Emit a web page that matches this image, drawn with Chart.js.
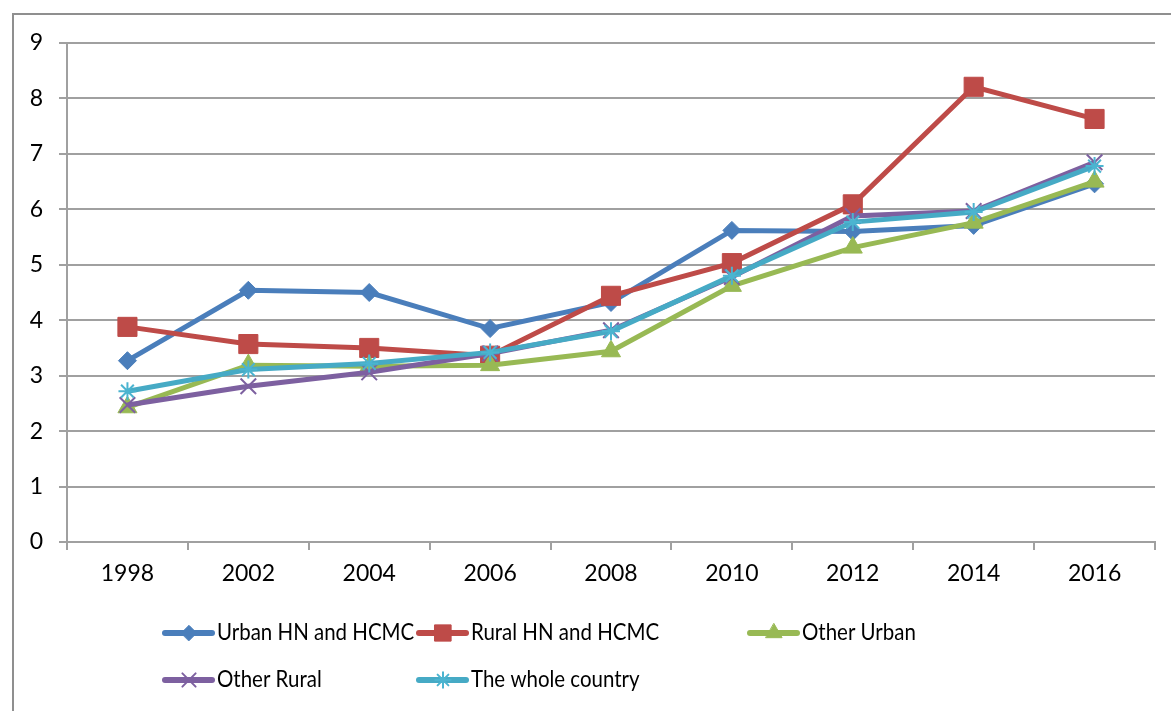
<!DOCTYPE html>
<html>
<head>
<meta charset="utf-8">
<script src="https://cdn.jsdelivr.net/npm/chart.js@4/dist/chart.umd.min.js"></script>
<style>
  html, body { margin: 0; padding: 0; background: #fff; }
  #wrap { width: 1171px; height: 711px; position: relative; }
</style>
</head>
<body>
<div id="wrap"><canvas id="lineChart"></canvas></div>
<script>
const years = ["1998", "2002", "2004", "2006", "2008", "2010", "2012", "2014", "2016"];

const urbanHN = [3.27, 4.54, 4.5, 3.85, 4.32, 5.62, 5.6, 5.71, 6.46];
const ruralHN = [3.88, 3.57, 3.5, 3.36, 4.44, 5.03, 6.09, 8.21, 7.63];
const otherUrban = [2.43, 3.19, 3.17, 3.19, 3.44, 4.62, 5.31, 5.76, 6.5];
const otherRural = [2.47, 2.81, 3.06, 3.4, 3.82, 4.78, 5.88, 5.97, 6.85];
const wholeCountry = [2.72, 3.11, 3.22, 3.42, 3.8, 4.8, 5.77, 5.95, 6.78];

const seriesNames = ["Urban HN and HCMC", "Rural HN and HCMC", "Other Urban", "Other Rural", "The whole country"];

const FONT = "Lato, 'Open Sans', sans-serif";

function makeSet(label, data, color, style, radius, pointBorder) {
  return {
    label: label,
    data: data,
    borderColor: color,
    backgroundColor: color,
    borderWidth: 5,
    pointStyle: style,
    pointRadius: radius,
    pointHoverRadius: radius,
    pointBackgroundColor: color,
    pointBorderColor: pointBorder || color,
    pointBorderWidth: style === "crossRot" || style === "star" ? 2 : 1,
    tension: 0,
  };
}

const datasets = [
  makeSet(seriesNames[0], urbanHN, "#4A7EBB", "rectRot", 9),
  makeSet(seriesNames[1], ruralHN, "#BE4B48", "rect", 13.5),
  makeSet(seriesNames[2], otherUrban, "#98B954", "triangle", 11),
  makeSet(seriesNames[3], otherRural, "#7D60A0", "crossRot", 11),
  makeSet(seriesNames[4], wholeCountry, "#46AAC5", "star", 9, "#4BB4D0"),
];
// later series drawn on top, like the original
datasets.forEach((d, i) => (d.order = datasets.length - i));

// frame round the whole chart
const framePlugin = {
  id: "frame",
  beforeDraw(chart) {
    const ctx = chart.ctx;
    ctx.save();
    ctx.strokeStyle = "#8f8f8f";
    ctx.lineWidth = 2;
    ctx.strokeRect(13, 14, chart.width + 20, chart.height + 20);
    ctx.restore();
  },
};

// Excel style legend: line with marker, then text
const legendPlugin = {
  id: "excelLegend",
  afterDraw(chart) {
    const ctx = chart.ctx;
    const slots = [
      [165, 633], [419, 633], [750, 633],
      [165, 680], [419, 680],
    ];
    ctx.save();
    chart.data.datasets.forEach((ds, i) => {
      const [x, y] = slots[i];
      ctx.strokeStyle = ds.borderColor;
      ctx.lineWidth = 6;
      ctx.lineCap = "round";
      ctx.beginPath();
      ctx.moveTo(x, y);
      ctx.lineTo(x + 47, y);
      ctx.stroke();
      if (Chart.helpers && Chart.helpers.drawPoint) {
        ctx.fillStyle = ds.pointBackgroundColor;
        ctx.strokeStyle = ds.pointBorderColor;
        ctx.lineWidth = ds.pointBorderWidth;
        Chart.helpers.drawPoint(ctx, {
          pointStyle: ds.pointStyle,
          radius: ds.pointRadius * 0.85,
          rotation: 0,
          borderWidth: ds.pointBorderWidth,
        }, x + 24, y);
      }
      // Calibri is narrow, so squeeze the text a little
      ctx.save();
      ctx.translate(x + 52, y);
      ctx.scale(0.89, 1);
      ctx.fillStyle = "#000";
      ctx.font = "23px " + FONT;
      ctx.textBaseline = "middle";
      ctx.textAlign = "left";
      ctx.fillText(ds.label, 0, 0);
      ctx.restore();
    });
    ctx.restore();
  },
};

new Chart(document.getElementById("lineChart"), {
  type: "line",
  data: { labels: years, datasets: datasets },
  plugins: [framePlugin, legendPlugin],
  options: {
    responsive: true,
    maintainAspectRatio: false,
    animation: false,
    layout: { padding: { top: 43, right: 16, left: 0, bottom: 0 } },
    plugins: {
      legend: { display: false },
      tooltip: { enabled: false },
    },
    scales: {
      x: {
        offset: true,
        grid: {
          offset: true,
          drawOnChartArea: false,
          drawTicks: true,
          tickLength: 8,
          color: "#a0a0a0",
          lineWidth: 2,
        },
        border: { color: "#a0a0a0", width: 2 },
        ticks: {
          color: "#000",
          font: { family: FONT, size: 23 },
          padding: 10,
          maxRotation: 0,
        },
        afterFit(scale) {
          scale.height = 169;
        },
      },
      y: {
        min: 0,
        max: 9,
        grid: {
          color: "#a0a0a0",
          lineWidth: 2,
          tickLength: 8,
        },
        border: { color: "#a0a0a0", width: 2 },
        ticks: {
          stepSize: 1,
          color: "#000",
          font: { family: FONT, size: 23 },
          padding: 16,
        },
        afterFit(scale) {
          scale.width = 67;
        },
      },
    },
  },
});
</script>
</body>
</html>
